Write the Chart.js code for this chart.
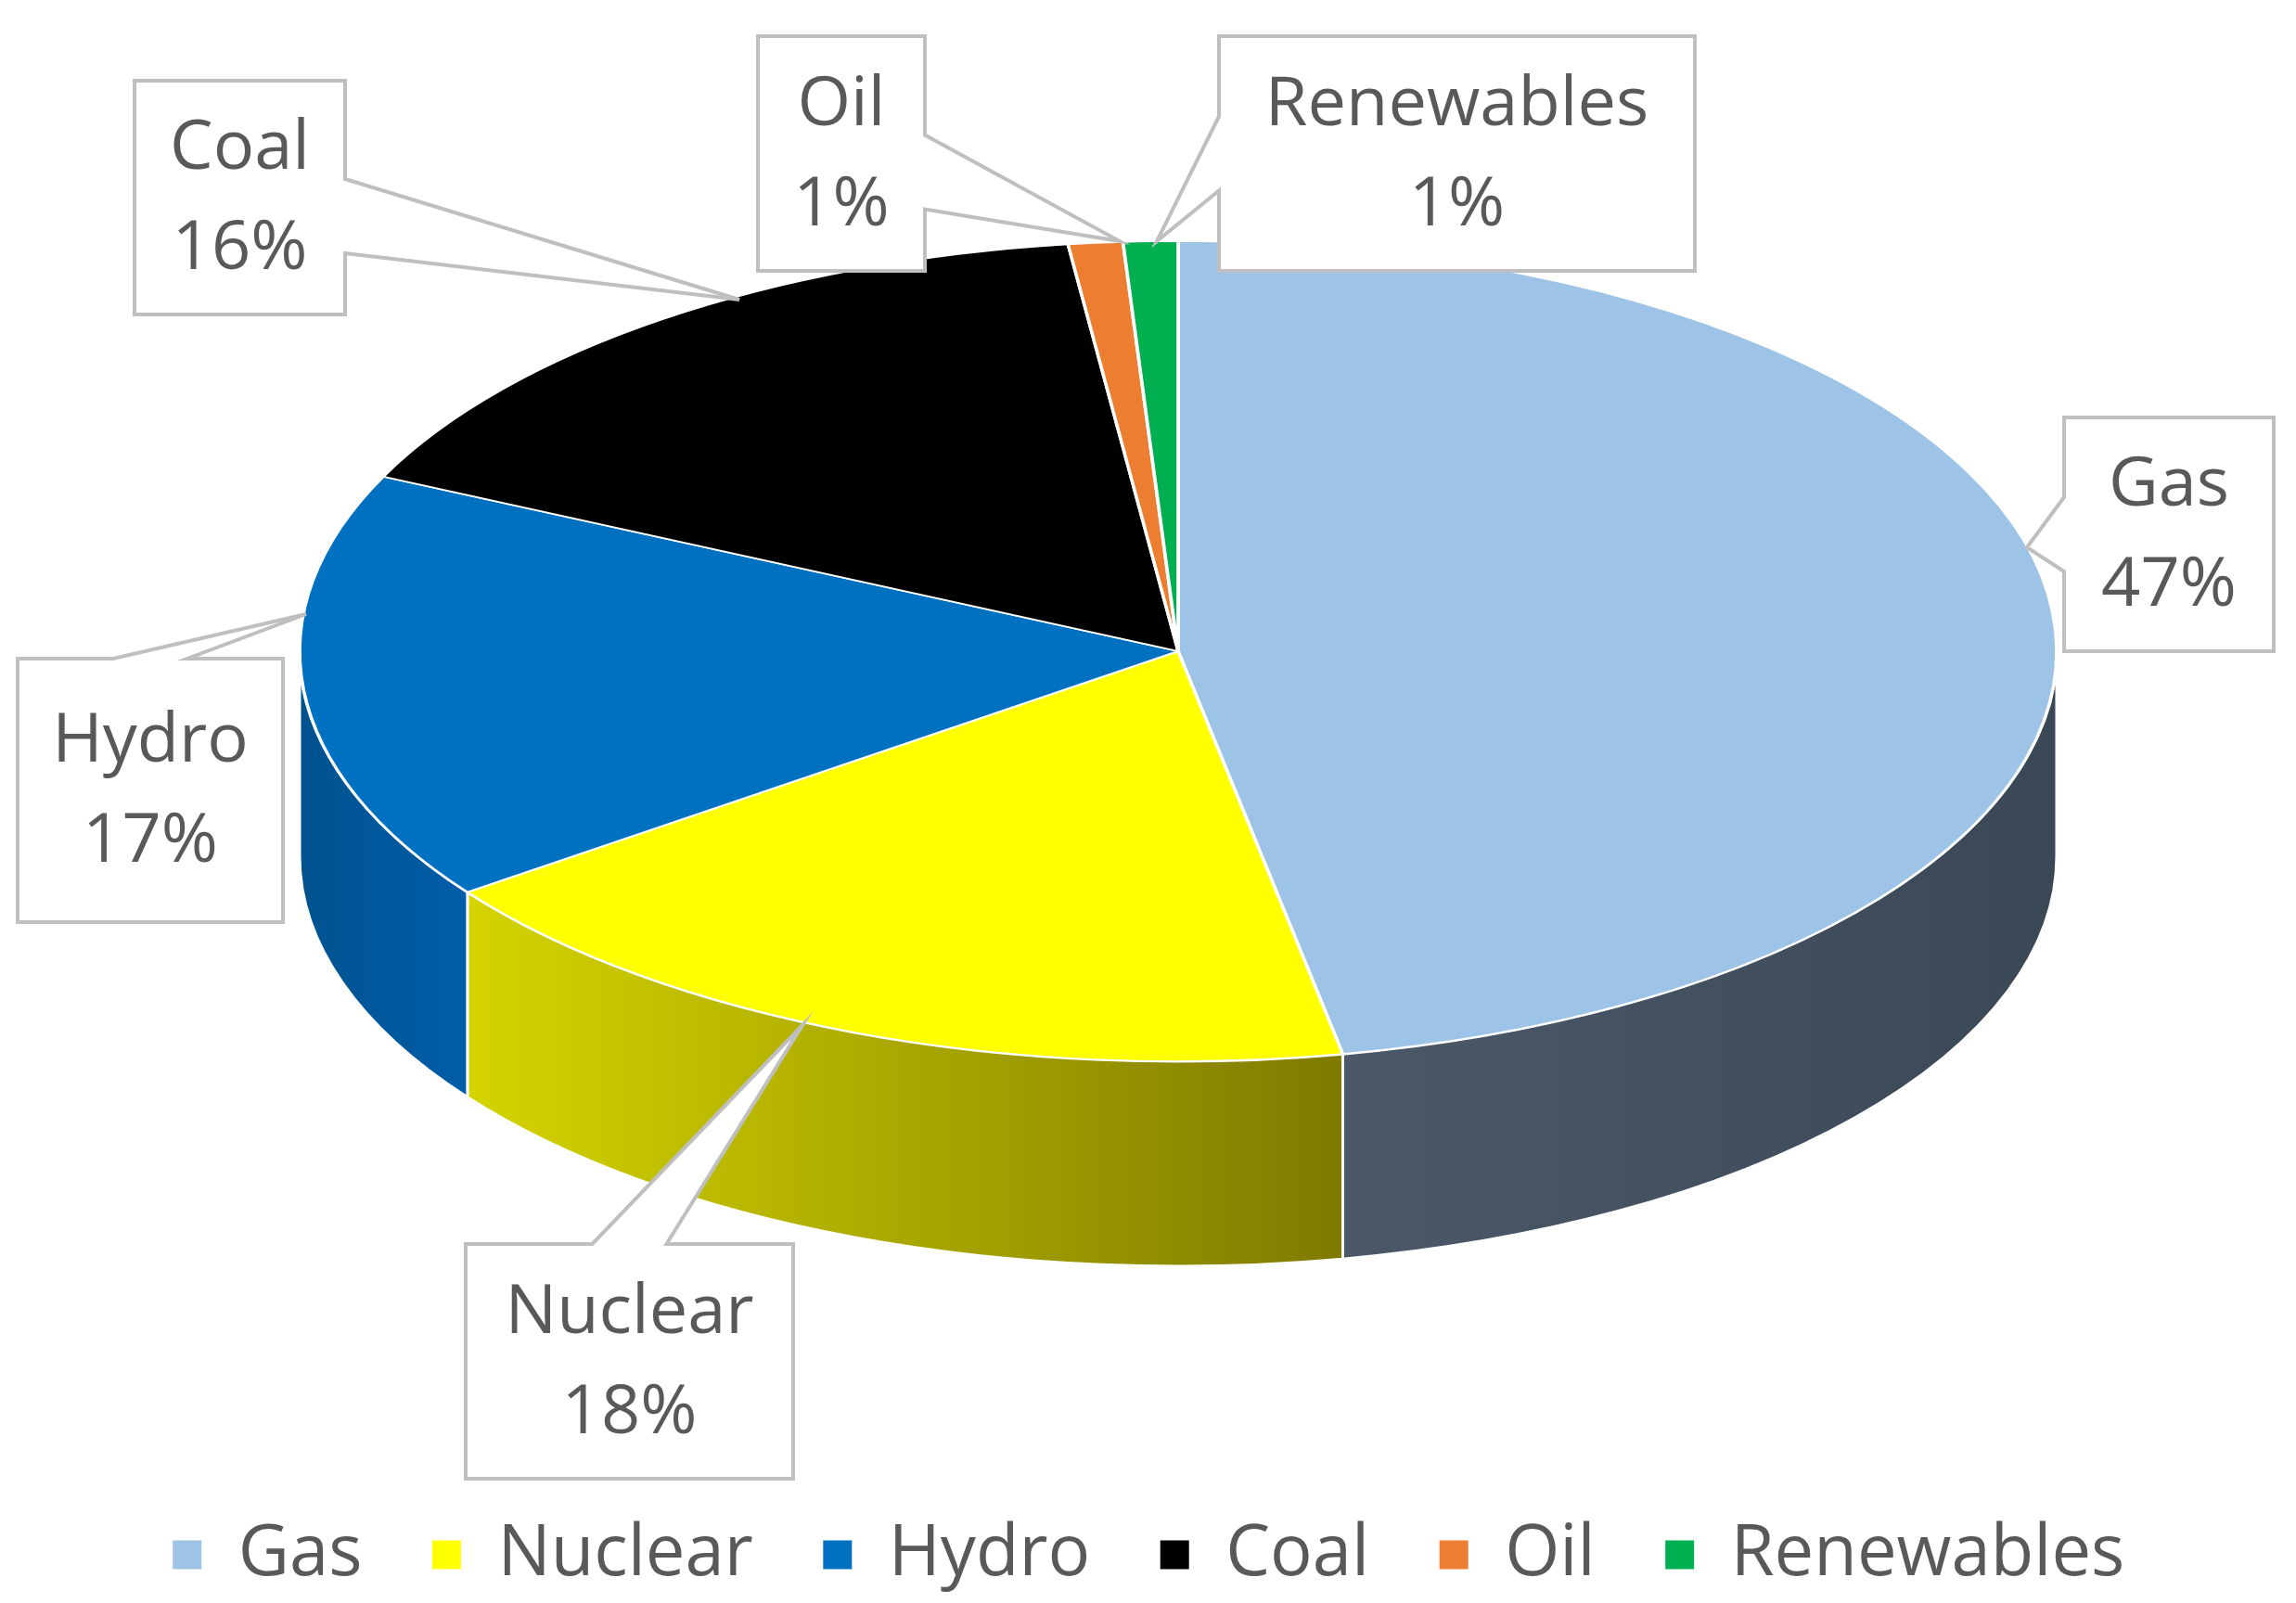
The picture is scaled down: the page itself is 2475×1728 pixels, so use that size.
<!DOCTYPE html>
<html>
<head>
<meta charset="utf-8">
<script src="https://cdn.jsdelivr.net/npm/chart.js@4"></script>
<style>
  html, body { margin: 0; padding: 0; background: #fff; }
  #wrap { width: 2475px; height: 1728px; }
</style>
</head>
<body>
<div id="wrap"><canvas id="pie"></canvas></div>
<script>
const labels = ["Gas", "Nuclear", "Hydro", "Coal", "Oil", "Renewables"];
const shares = [47, 18, 17, 16, 1, 1];
const colors = ["#9dc3e6", "#ffff00", "#0070c0", "#000000", "#ed7d31", "#00b050"];
// side wall colours: [at slice start (right), at slice end (left)]
const sideColors = [["#3a4856", "#4a5868"], ["#7f7a00", "#d4d400"], ["#005da8", "#00528f"], ["#111", "#000"], ["#b85e22", "#a0501c"], ["#008a3e", "#007032"]];

// ellipse geometry of the tilted top face
const cx = 1270, cy = 702, rx = 947, ry = 442, depth = 221;

// callout boxes [x1, y1, x2, y2] and tip of the pointer
const boxes = [
  { box: [2225, 450, 2451, 702], tip: [2185, 590], base: "left" },
  { box: [502, 1341, 855, 1594], tip: [865, 1105], base: "top" },
  { box: [19, 710, 305, 994], tip: [330, 662], base: "top" },
  { box: [145, 87, 372, 339], tip: [797, 323], base: "right" },
  { box: [817, 39, 997, 292], tip: [1207, 260], base: "right" },
  { box: [1314, 39, 1827, 292], tip: [1247, 260], base: "left" }
];

const tiltPlugin = {
  id: "tilt",
  beforeDatasetsDraw(chart) {
    const ctx = chart.ctx;
    const arcs = chart.getDatasetMeta(0).data;
    const a0 = arcs[0];
    arcs.forEach((arc, i) => {
      const s = Math.max(arc.startAngle, 0);
      const e = Math.min(arc.endAngle, Math.PI);
      if (e <= s) return;
      const g = ctx.createLinearGradient(cx + rx * Math.cos(s), 0, cx + rx * Math.cos(e), 0);
      g.addColorStop(0, sideColors[i][0]);
      g.addColorStop(1, sideColors[i][1]);
      ctx.beginPath();
      ctx.ellipse(cx, cy, rx, ry, 0, s, e);
      ctx.lineTo(cx + rx * Math.cos(e), cy + ry * Math.sin(e) + depth);
      ctx.ellipse(cx, cy + depth, rx, ry, 0, e, s, true);
      ctx.closePath();
      ctx.fillStyle = g;
      ctx.fill();
      ctx.strokeStyle = "#fff";
      ctx.lineWidth = 3;
      ctx.stroke();
    });
    ctx.save();
    const R = a0.outerRadius;
    ctx.translate(cx, cy);
    ctx.scale(rx / R, ry / R);
    ctx.translate(-a0.x, -a0.y);
  },
  afterDatasetsDraw(chart) {
    chart.ctx.restore();
  },
  afterDraw(chart) {
    const ctx = chart.ctx;
    ctx.save();
    boxes.forEach((b, i) => {
      const [x1, y1, x2, y2] = b.box;
      const w = 40;
      ctx.beginPath();
      ctx.moveTo(x1, y1);
      if (b.base === "top") {
        const m = (x1 + x2) / 2;
        ctx.lineTo(m - w, y1); ctx.lineTo(b.tip[0], b.tip[1]); ctx.lineTo(m + w, y1);
      }
      ctx.lineTo(x2, y1);
      if (b.base === "right") {
        const m = (y1 + y2) / 2 + 20;
        ctx.lineTo(x2, m - w); ctx.lineTo(b.tip[0], b.tip[1]); ctx.lineTo(x2, m + w);
      }
      ctx.lineTo(x2, y2);
      ctx.lineTo(x1, y2);
      if (b.base === "left") {
        const m = (y1 + y2) / 2;
        ctx.lineTo(x1, m + w); ctx.lineTo(b.tip[0], b.tip[1]); ctx.lineTo(x1, m - w);
      }
      ctx.closePath();
      ctx.fillStyle = "#fff";
      ctx.fill();
      ctx.strokeStyle = "#bfbfbf";
      ctx.lineWidth = 4;
      ctx.stroke();
      ctx.fillStyle = "#595959";
      ctx.font = "74px 'Open Sans', 'Liberation Sans', sans-serif";
      ctx.textAlign = "center";
      ctx.textBaseline = "middle";
      const mx = (x1 + x2) / 2, my = (y1 + y2) / 2;
      ctx.fillText(labels[i], mx, my - 52);
      ctx.fillText(shares[i] + "%", mx, my + 56);
    });
    ctx.restore();
  }
};

new Chart(document.getElementById("pie"), {
  type: "pie",
  data: {
    labels: labels,
    datasets: [{ data: shares, backgroundColor: colors, borderColor: "#fff", borderWidth: 3 }]
  },
  options: {
    responsive: true,
    maintainAspectRatio: false,
    animation: false,
    layout: { padding: { bottom: 4 } },
    plugins: {
      tooltip: { enabled: false },
      legend: {
        position: "bottom",
        labels: {
          color: "#595959",
          font: { size: 76, family: "'Open Sans', 'Liberation Sans', sans-serif" },
          boxWidth: 34,
          boxHeight: 34,
          padding: 74
        }
      }
    }
  },
  plugins: [tiltPlugin]
});
</script>
</body>
</html>
